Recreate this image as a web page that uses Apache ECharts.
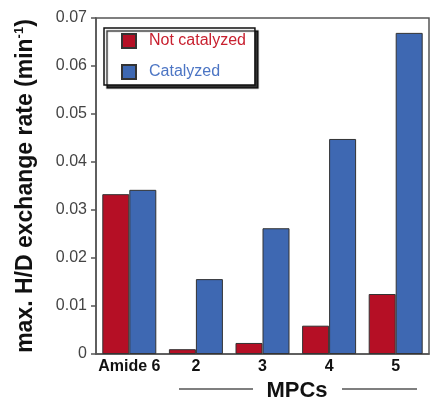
<!DOCTYPE html>
<html>
<head>
<meta charset="utf-8">
<script src="https://cdn.jsdelivr.net/npm/echarts@6/dist/echarts.min.js"></script>
<style>
  html, body { margin: 0; padding: 0; background: #fff; }
  #chart { width: 430px; height: 399px; }
</style>
</head>
<body>
<div id="chart"></div>
<script>
const categories = ['Amide 6', '2', '3', '4', '5'];
const notCatalyzed = [0.0333, 0.0010, 0.0023, 0.0059, 0.0125];
const catalyzed = [0.0342, 0.0156, 0.0262, 0.0448, 0.0669];

const font = '"Liberation Sans", Arial, sans-serif';
const chart = echarts.init(document.getElementById('chart'));

chart.setOption({
  animation: false,
  textStyle: { fontFamily: font },
  grid: {
    left: 96, right: 1, top: 18, bottom: 45,
    outerBoundsMode: 'none',
    show: true, borderColor: '#555', borderWidth: 1.5
  },
  legend: {
    left: 104, top: 28,
    orient: 'vertical',
    padding: [5, 9, 5, 17],
    itemGap: 15,
    itemWidth: 14, itemHeight: 14,
    icon: 'rect',
    backgroundColor: '#fff',
    borderColor: '#111',
    borderWidth: 1.5,
    shadowColor: 'rgba(0,0,0,0.8)',
    shadowOffsetX: 3, shadowOffsetY: 3, shadowBlur: 1,
    textStyle: { fontSize: 16, fontFamily: font, padding: [0, 0, 0, 8] },
    data: [
      { name: 'Not catalyzed', textStyle: { color: '#c8202f' } },
      { name: 'Catalyzed', textStyle: { color: '#4c75c4' } }
    ]
  },
  xAxis: {
    type: 'category',
    data: categories,
    axisLine: { lineStyle: { color: '#555', width: 1.5 } },
    axisTick: { show: false },
    axisLabel: { interval: 0, color: '#111', fontWeight: 'bold', fontSize: 16, margin: 5 }
  },
  yAxis: {
    type: 'value',
    min: 0, max: 0.07, interval: 0.01,
    name: 'max. H/D exchange rate (min{sup|-1})',
    nameLocation: 'middle',
    nameGap: 58,
    nameRotate: 90,
    nameTextStyle: {
      color: '#111', fontSize: 23, fontWeight: 'bold',
      rich: { sup: { fontSize: 13, fontWeight: 'bold', verticalAlign: 'top', padding: [0, 0, 12, 0] } }
    },
    splitLine: { show: false },
    axisLine: { show: true, lineStyle: { color: '#555', width: 1.5 } },
    axisTick: { show: true, length: 5, lineStyle: { color: '#555', width: 1.5 } },
    axisLabel: {
      color: '#444', fontSize: 16, margin: 9,
      formatter: v => (v === 0 ? '0' : v.toFixed(2))
    }
  },
  series: [
    {
      name: 'Not catalyzed', type: 'bar', data: notCatalyzed,
      barWidth: 27, barGap: '0%',
      itemStyle: { color: '#b50f25', borderColor: '#333', borderWidth: 1 }
    },
    {
      name: 'Catalyzed', type: 'bar', data: catalyzed,
      barWidth: 27,
      itemStyle: { color: '#3e68b2', borderColor: '#333', borderWidth: 1 }
    }
  ],
  graphic: [
    { type: 'line', shape: { x1: 179, y1: 389, x2: 253, y2: 389 }, style: { stroke: '#555', lineWidth: 1.5 } },
    { type: 'line', shape: { x1: 342, y1: 389, x2: 417, y2: 389 }, style: { stroke: '#555', lineWidth: 1.5 } },
    {
      type: 'text', x: 297, y: 391,
      style: { text: 'MPCs', fill: '#111', font: 'bold 22px ' + font, textAlign: 'center', textVerticalAlign: 'middle' }
    }
  ]
});
</script>
</body>
</html>
